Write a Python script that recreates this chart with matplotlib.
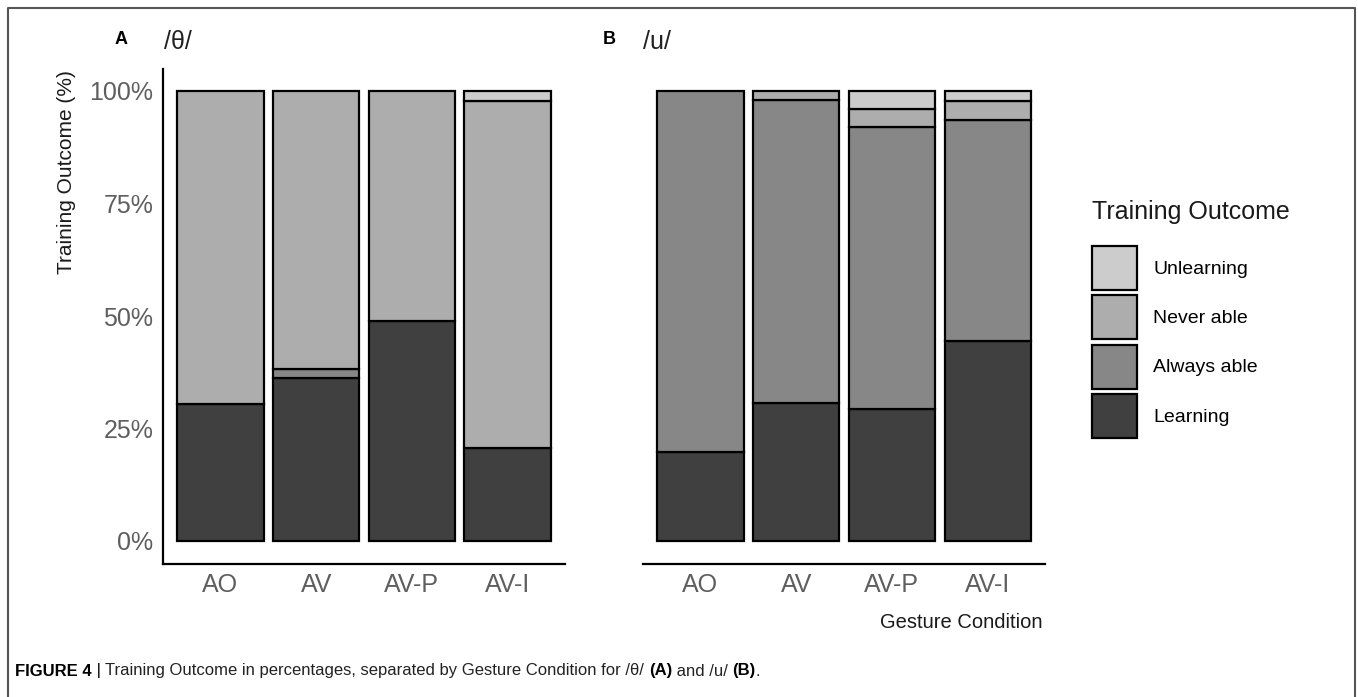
import matplotlib
matplotlib.use("Agg")
import matplotlib.pyplot as plt
from matplotlib.patches import Patch
from matplotlib.lines import Line2D
import numpy as np

plt.rcParams.update({'font.family': ['Liberation Sans', 'DejaVu Sans']})

# data (percent of participants)
conditions = ['AO', 'AV', 'AV-P', 'AV-I']
outcomes = ['Learning', 'Always able', 'Never able', 'Unlearning']
colors = ['#404040', '#878787', '#adadad', '#cccccc']

theta_learning = [30.5, 36.3, 49.0, 20.7]
theta_always = [0.0, 1.9, 0.0, 0.0]
theta_never = [69.5, 61.8, 51.0, 77.1]
theta_unlearn = [0.0, 0.0, 0.0, 2.2]

u_learning = [19.8, 30.7, 29.3, 44.5]
u_always = [80.2, 67.3, 62.8, 49.1]
u_never = [0.0, 2.0, 3.9, 4.2]
u_unlearn = [0.0, 0.0, 4.0, 2.2]

W, H = 1358, 697
fig = plt.figure(figsize=(W / 100, H / 100), dpi=100)


def px(x, y):
    return x / W, 1 - y / H


tick_grey = '#5e5e5e'


def stacked(ax, series):
    x = np.arange(len(conditions))
    bottom = np.zeros(len(conditions))
    for vals, col in zip(series, colors):
        vals = np.array(vals)
        for i in range(len(x)):
            if vals[i] > 0:
                ax.bar(x[i], vals[i], bottom=bottom[i], width=0.9, color=col,
                       edgecolor='black', linewidth=1.6)
        bottom += vals
    ax.set_xlim(-0.6, 3.6)
    ax.set_ylim(-5, 105)
    ax.set_xticks(x)
    ax.set_xticklabels(conditions)
    ax.tick_params(length=0, labelsize=18, labelcolor=tick_grey, pad=7)
    for s in ['top', 'right']:
        ax.spines[s].set_visible(False)
    for s in ['left', 'bottom']:
        ax.spines[s].set_linewidth(1.6)


axA = fig.add_axes([163 / W, 1 - 563.5 / H, 402 / W, 495 / H])
stacked(axA, [theta_learning, theta_always, theta_never, theta_unlearn])
axA.set_yticks([0, 25, 50, 75, 100])
axA.set_yticklabels(['0%', '25%', '50%', '75%', '100%'])

axB = fig.add_axes([643 / W, 1 - 563.5 / H, 402 / W, 495 / H])
stacked(axB, [u_learning, u_always, u_never, u_unlearn])
axB.set_yticks([])
axB.spines['left'].set_visible(False)

# y axis title
fig.text(*px(67, 70), 'Training Outcome (%)', rotation=90, ha='center', va='top',
         fontsize=15, color='#1a1a1a')
# x axis title
fig.text(*px(1043, 622), 'Gesture Condition', ha='right', va='center',
         fontsize=14.5, color='#1a1a1a')

# panel labels and titles
fig.text(*px(121, 40), 'A', ha='center', va='center', fontsize=13, fontweight='bold')
fig.text(*px(609, 40), 'B', ha='center', va='center', fontsize=13, fontweight='bold')
fig.text(*px(164, 42), '/θ/', ha='left', va='center', fontsize=18, color='#222222')
fig.text(*px(643, 42), '/u/', ha='left', va='center', fontsize=18, color='#222222')

# legend
fig.text(*px(1092, 212), 'Training Outcome', ha='left', va='center',
         fontsize=18, color='#1a1a1a')
handles = [Patch(facecolor=c, edgecolor='black', linewidth=1.6) for c in colors][::-1]
leg = fig.legend(handles, outcomes[::-1],
                 loc='upper left', bbox_to_anchor=px(1092, 246), frameon=False,
                 fontsize=14, handlelength=2.3, handleheight=3.1,
                 labelspacing=0.28, handletextpad=0.85, borderpad=0, borderaxespad=0)

# outer frame (open at the bottom)
fx = [8 / W, 8 / W, 1355 / W, 1355 / W]
fy = [0, 1 - 8 / H, 1 - 8 / H, 0]
fig.add_artist(Line2D(fx, fy, color='#555555', linewidth=1.5, transform=fig.transFigure))

# caption with mixed weights
pieces = [('FIGURE 4', 'bold', 'black'), (' | ', 'normal', 'black'),
          ('Training Outcome in percentages, separated by Gesture Condition for /θ/ ', 'normal', '#222222'),
          ('(A)', 'bold', 'black'), (' and /u/ ', 'normal', '#222222'),
          ('(B)', 'bold', 'black'), ('.', 'normal', '#222222')]
fig.canvas.draw()
r = fig.canvas.get_renderer()
x0 = 15
for txt, wt, col in pieces:
    t = fig.text(*px(x0, 671), txt, ha='left', va='center', fontsize=12,
                 fontweight=wt, color=col)
    bb = t.get_window_extent(renderer=r)
    x0 += bb.width

fig.savefig('out.png', dpi=100)
